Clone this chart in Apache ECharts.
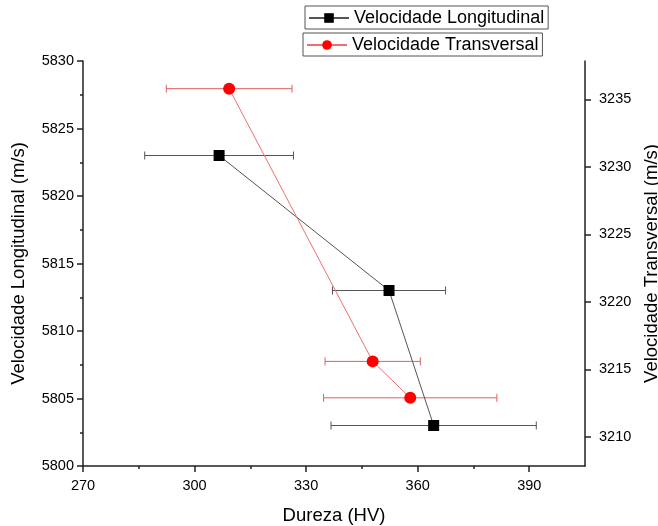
<!DOCTYPE html>
<html>
<head>
<meta charset="utf-8">
<script src="https://cdn.jsdelivr.net/npm/echarts@6/dist/echarts.min.js"></script>
<style>html,body{margin:0;padding:0;background:#fff}#c{width:658px;height:526px}</style>
</head>
<body>
<div id="c"></div>
<script>
// Longitudinal velocity (left axis)
const longX = [306.6, 352.3, 364.3];
const longY = [5823.0, 5813.0, 5803.0];
const longXErr = [20.0, 15.2, 27.6];
// Transversal velocity (right axis)
const transX = [309.3, 347.9, 358.0];
const transY = [3235.8, 3215.6, 3212.9];
const transXErr = [16.9, 12.8, 23.3];
// Tick values
const xMajorTicks = [270, 300, 330, 360, 390];
const xMinorTicks = [285, 315, 345, 375];
const rightTicks = [3210, 3215, 3220, 3225, 3230, 3235];

const FONT = '"Liberation Sans", Arial, sans-serif';
const chart = echarts.init(document.getElementById('c'), null, {renderer: 'canvas'});

function errBar(color) {
  return function (params, api) {
    const x = api.value(0), y = api.value(1), e = api.value(2);
    const a = api.coord([x - e, y]);
    const b = api.coord([x + e, y]);
    const cap = 4;
    const st = {stroke: color, lineWidth: 1};
    return {type: 'group', children: [
      {type: 'line', shape: {x1: a[0], y1: a[1], x2: b[0], y2: b[1]}, style: st},
      {type: 'line', shape: {x1: a[0], y1: a[1] - cap, x2: a[0], y2: a[1] + cap}, style: st},
      {type: 'line', shape: {x1: b[0], y1: b[1] - cap, x2: b[0], y2: b[1] + cap}, style: st}
    ]};
  };
}

const plain = v => String(Math.round(v));
const axisLineStyle = {color: '#222', width: 1.5};
const legendCommon = {
  orient: 'horizontal', borderColor: '#555', borderWidth: 1, padding: [3, 4, 2, 3],
  itemWidth: 40, itemHeight: 12, itemGap: 4,
  textStyle: {fontFamily: FONT, fontSize: 18, color: '#000'}
};
const titleStyle = {fontFamily: FONT, fontSize: 18.5, color: '#000'};
const tickFont = {fontFamily: FONT, fontSize: 14.5, color: '#000'};

chart.setOption({
  animation: false,
  backgroundColor: '#fff',
  legend: [
    Object.assign({}, legendCommon, {data: ['Velocidade Longitudinal'], left: 305, top: 6}),
    Object.assign({}, legendCommon, {data: ['Velocidade Transversal'], left: 303, top: 33})
  ],
  grid: {left: 83, right: 73, top: 61, bottom: 60, containLabel: false, outerBoundsMode: 'none'},
  xAxis: [
    {
      type: 'value', min: 270, max: 405, position: 'bottom',
      name: 'Dureza (HV)', nameLocation: 'middle', nameGap: 40,
      nameTextStyle: titleStyle,
      axisLine: {show: true, lineStyle: axisLineStyle},
      axisTick: {show: true, length: 6, inside: false, customValues: xMajorTicks, lineStyle: {color: '#222', width: 1.5}},
      axisLabel: Object.assign({customValues: xMajorTicks, margin: 12, formatter: plain}, tickFont),
      splitLine: {show: false}
    },
    {
      type: 'value', min: 270, max: 405, position: 'bottom',
      axisLine: {show: false},
      axisTick: {show: true, length: 3, customValues: xMinorTicks, lineStyle: {color: '#222', width: 1.5}},
      axisLabel: {show: false},
      splitLine: {show: false}
    }
  ],
  yAxis: [
    {
      type: 'value', min: 5800, max: 5830, interval: 5, position: 'left',
      name: 'Velocidade Longitudinal (m/s)', nameLocation: 'middle', nameGap: 55, nameRotate: 90,
      nameTextStyle: titleStyle,
      axisLine: {show: true, lineStyle: axisLineStyle},
      axisTick: {show: true, length: 6, lineStyle: {color: '#222', width: 1.5}},
      minorTick: {show: true, splitNumber: 2, length: 3, lineStyle: {color: '#222', width: 1.5}},
      axisLabel: Object.assign({margin: 9, formatter: plain}, tickFont),
      splitLine: {show: false}, minorSplitLine: {show: false}
    },
    {
      type: 'value', min: 3207.85, max: 3237.85, position: 'right',
      name: 'Velocidade Transversal (m/s)', nameLocation: 'middle', nameGap: 53, nameRotate: 90,
      nameTextStyle: titleStyle,
      axisLine: {show: true, lineStyle: axisLineStyle},
      axisTick: {show: true, length: 6, customValues: rightTicks, lineStyle: {color: '#222', width: 1.5}},
      axisLabel: Object.assign({customValues: rightTicks, margin: 14, formatter: plain}, tickFont),
      splitLine: {show: false}
    }
  ],
  series: [
    {
      name: 'errLong', type: 'custom', xAxisIndex: 0, yAxisIndex: 0, z: 1,
      renderItem: errBar('#555'),
      data: longX.map((x, i) => [x, longY[i], longXErr[i]])
    },
    {
      name: 'errTrans', type: 'custom', xAxisIndex: 0, yAxisIndex: 1, z: 1,
      renderItem: errBar('#e06060'),
      data: transX.map((x, i) => [x, transY[i], transXErr[i]])
    },
    {
      name: 'Velocidade Longitudinal', type: 'line', xAxisIndex: 0, yAxisIndex: 0, z: 3,
      symbol: 'rect', symbolSize: 11,
      itemStyle: {color: '#000'},
      lineStyle: {color: '#555', width: 1},
      data: longX.map((x, i) => [x, longY[i]])
    },
    {
      name: 'Velocidade Transversal', type: 'line', xAxisIndex: 0, yAxisIndex: 1, z: 3,
      symbol: 'circle', symbolSize: 12,
      itemStyle: {color: '#ff0000'},
      lineStyle: {color: '#f07070', width: 1},
      data: transX.map((x, i) => [x, transY[i]])
    }
  ]
});
</script>
</body>
</html>
